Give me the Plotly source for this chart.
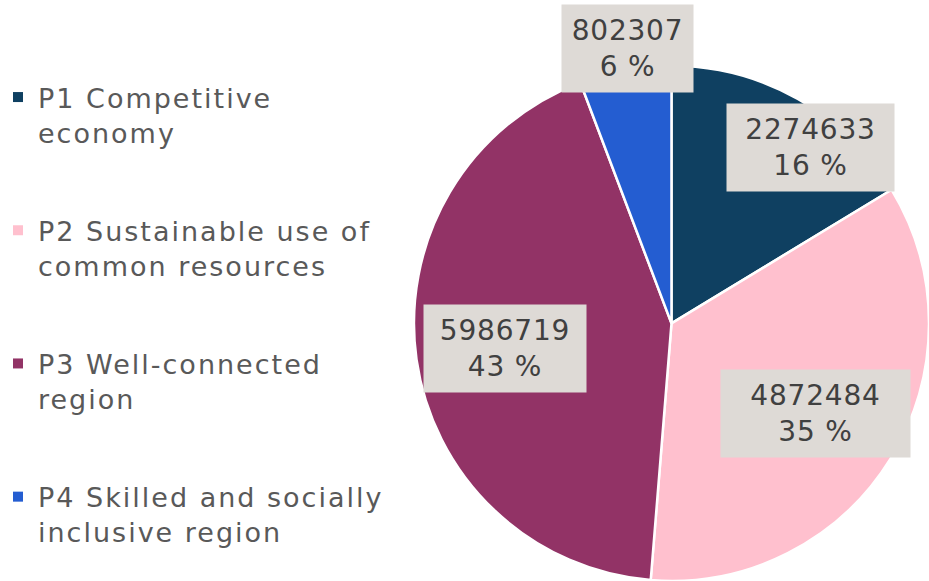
import math
import plotly.graph_objects as go

categories = ["P1 Competitive economy", "P2 Sustainable use of common resources",
              "P3 Well-connected region", "P4 Skilled and socially inclusive region"]
legend_labels = ["P1 Competitive<br>economy", "P2 Sustainable use of<br>common resources",
                 "P3 Well-connected<br>region", "P4 Skilled and socially<br>inclusive region"]
values = [2274633, 4872484, 5986719, 802307]

colors = ["#0F4061", "#FFC0CE", "#923366", "#245DD1"]

W, H = 929, 581
FONT = "DejaVu Sans"
TEXT = "#595959"
LABEL_TEXT = "#404040"
BOX = "#DEDAD6"

# pie domain
dom_x = [0.4456, 1.0]
dom_y = [0.0, 0.887]

fig = go.Figure()
fig.add_trace(go.Pie(
    labels=categories, values=values, sort=False, direction="clockwise",
    rotation=0, marker=dict(colors=colors, line=dict(color="white", width=2.5)),
    textinfo="none", hoverinfo="label+value+percent", showlegend=False,
    domain=dict(x=dom_x, y=dom_y),
))

# legend via invisible scatter traces (one group each, to allow spacing)
for i, (lab, col) in enumerate(zip(legend_labels, colors)):
    fig.add_trace(go.Scatter(
        x=[None], y=[None], mode="markers", name=lab, legendgroup=f"g{i}",
        marker=dict(symbol="square", size=10, color=col),
    ))

# data labels placed by slice angle
total = sum(values)
cx = (dom_x[0] + dom_x[1]) / 2 * W
side = min((dom_x[1] - dom_x[0]) * W, (dom_y[1] - dom_y[0]) * H)
R = side / 2
cy_from_bottom = (dom_y[0] + dom_y[1]) / 2 * H
radial = [0.87, 0.66, 0.655, 1.08]
ang_shift = [9.0, 0.5, -0.5, 1.3]
box_w = [157, 179, 152, 121]
cum = 0.0
for i, v in enumerate(values):
    mid = (cum + v / 2) / total * 360 + ang_shift[i]
    cum += v
    r = radial[i] * R
    px = cx + r * math.sin(math.radians(mid))
    py = cy_from_bottom + r * math.cos(math.radians(mid))
    pct = round(v / total * 100)
    fig.add_annotation(
        x=px / W, y=py / H, xref="paper", yref="paper",
        text=f"{v}<br>{pct} %", showarrow=False,
        font=dict(family=FONT, size=28, color=LABEL_TEXT),
        bgcolor=BOX, width=box_w[i], height=77, borderpad=5,
        xanchor="center", yanchor="middle", align="center",
    )

fig.update_layout(
    width=W, height=H, margin=dict(l=0, r=0, t=0, b=0, autoexpand=False),
    paper_bgcolor="white", plot_bgcolor="white",
    xaxis=dict(visible=False), yaxis=dict(visible=False),
    font=dict(family=FONT, color=TEXT),
    legend=dict(x=-2 / W, y=1 - 73 / H, xanchor="left", yanchor="top",
                font=dict(family=FONT, size=27, color=TEXT),
                tracegroupgap=60, valign="top", bgcolor="rgba(0,0,0,0)",
                itemclick=False, itemdoubleclick=False),
    showlegend=True,
)

post = (
    "document.body.style.margin='0px';"
    "var st=document.createElement('style');"
    "st.textContent='.legendtext{letter-spacing:2px}.annotation-text{letter-spacing:0.8px}';"
    "document.head.appendChild(st);"
    "document.querySelectorAll('.legend [clip-path]').forEach(function(e){e.removeAttribute('clip-path');});"
)

fig.write_html("out.html", post_script=post, config={"displayModeBar": False})
